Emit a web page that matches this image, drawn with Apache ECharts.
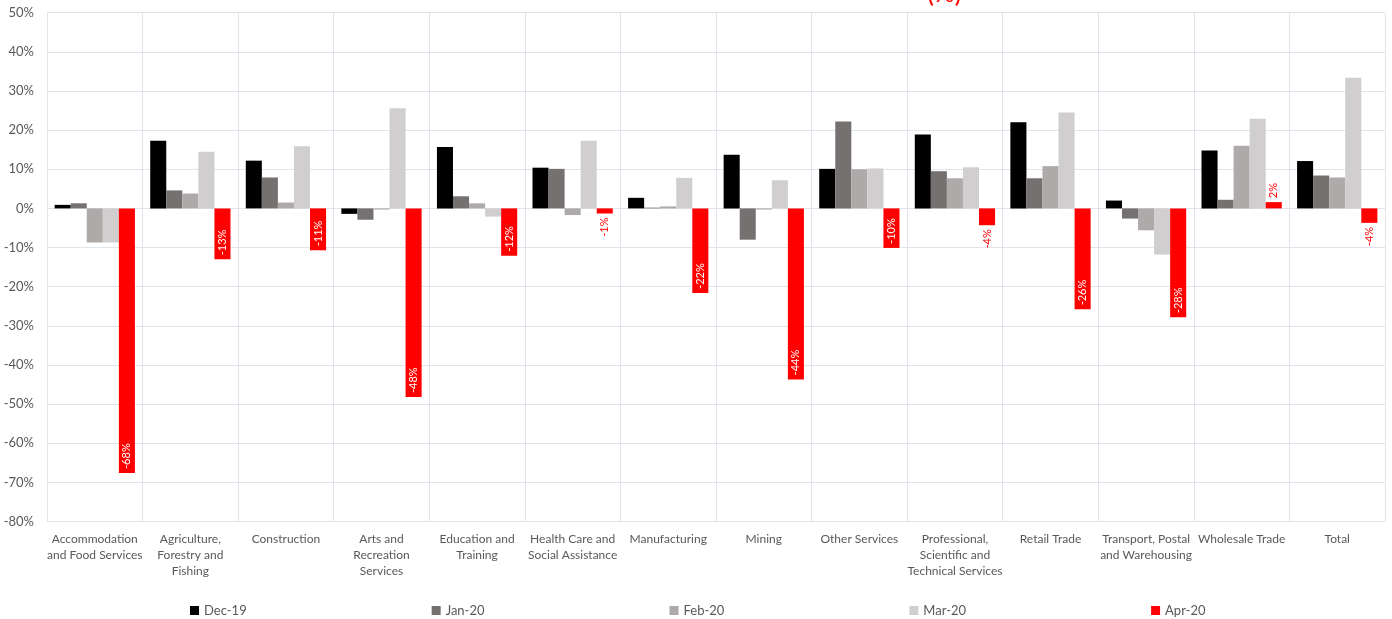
<!DOCTYPE html>
<html>
<head>
<meta charset="utf-8">
<script src="https://cdn.jsdelivr.net/npm/echarts@6/dist/echarts.min.js"></script>
<style>
  html, body { margin: 0; padding: 0; background: #fff; }
  #chart { width: 1392px; height: 619px; }
</style>
</head>
<body>
<div id="chart"></div>
<script>
  // industry categories (line breaks as in the original axis)
  const categories = [
    'Accommodation\nand Food Services',
    'Agriculture,\nForestry and\nFishing',
    'Construction',
    'Arts and\nRecreation\nServices',
    'Education and\nTraining',
    'Health Care and\nSocial Assistance',
    'Manufacturing',
    'Mining',
    'Other Services',
    'Professional,\nScientific and\nTechnical Services',
    'Retail Trade',
    'Transport, Postal\nand Warehousing',
    'Wholesale Trade',
    'Total'
  ]

  const seriesNames = ['Dec-19', 'Jan-20', 'Feb-20', 'Mar-20', 'Apr-20']
  const seriesColors = ['#000000', '#767171', '#aeaaaa', '#d0cece', '#ff0000']

  const dec19 = [0.9, 17.3, 12.2, -1.4, 15.7, 10.4, 2.7, 13.7, 10.1, 18.9, 22.0, 2.0, 14.8, 12.1]
  const jan20 = [1.3, 4.6, 7.9, -2.9, 3.1, 10.1, 0.2, -8.0, 22.2, 9.5, 7.7, -2.6, 2.2, 8.4]
  const feb20 = [-8.7, 3.8, 1.5, -0.3, 1.3, -1.7, 0.5, -0.3, 10.0, 7.7, 10.8, -5.6, 16.0, 7.9]
  const mar20 = [-8.7, 14.5, 15.9, 25.6, -2.1, 17.3, 7.8, 7.2, 10.2, 10.5, 24.5, -11.8, 22.9, 33.4]
  const apr20 = [-67.6, -13.0, -10.7, -48.2, -12.1, -1.3, -21.6, -43.7, -10.1, -4.3, -25.8, -27.8, 1.6, -3.7]

  const yTicks = { min: -80, max: 50, interval: 10 }

  const font = 'Lato, "Open Sans", sans-serif'
  const gridColor = '#e1e4ec'
  const textColor = '#595959'

  const chart = echarts.init(document.getElementById('chart'))

  // Apr-20 labels: white inside long bars, red outside short ones
  const aprData = apr20.map(function (v) {
    let label
    if (Math.abs(v) >= 5) {
      label = {
        show: true, position: 'insideBottom', rotate: 90,
        align: 'left', verticalAlign: 'middle', distance: 4, color: '#fff'
      }
    } else if (v < 0) {
      label = {
        show: true, position: 'bottom', rotate: 90,
        align: 'right', verticalAlign: 'middle', distance: 4, color: '#ff0000'
      }
    } else {
      label = {
        show: true, position: 'top', rotate: 90,
        align: 'left', verticalAlign: 'middle', distance: 4, color: '#ff0000'
      }
    }
    return { value: v, label: label }
  })

  const allValues = [dec19, jan20, feb20, mar20, aprData]

  const series = seriesNames.map(function (name, i) {
    const s = {
      name: name,
      type: 'bar',
      data: allValues[i],
      barGap: '0%',
      barCategoryGap: '16%',
      itemStyle: { color: seriesColors[i] }
    }
    if (i === 4) {
      s.label = {
        fontFamily: font,
        fontSize: 11,
        formatter: function (p) { return Math.round(p.value) + '%' }
      }
    }
    return s
  })

  const option = {
    animation: false,
    title: {
      text: '(%)',
      left: 922,
      top: -24,
      textStyle: { color: '#ff0000', fontSize: 26, fontWeight: 'normal', fontFamily: font }
    },
    grid: { left: 47, right: 7, top: 12.7, bottom: 97.5 },
    legend: {
      data: seriesNames,
      left: 185,
      top: 599,
      icon: 'rect',
      itemWidth: 9,
      itemHeight: 9,
      itemGap: 185,
      textStyle: { color: textColor, fontSize: 13, fontFamily: font }
    },
    xAxis: {
      type: 'category',
      data: categories,
      axisLine: { show: false },
      axisTick: { show: false },
      axisLabel: {
        interval: 0,
        margin: 10,
        color: textColor,
        fontFamily: font,
        fontSize: 12,
        lineHeight: 16
      },
      splitLine: { show: true, interval: 0, lineStyle: { color: gridColor, width: 1 } }
    },
    yAxis: {
      type: 'value',
      min: yTicks.min,
      max: yTicks.max,
      interval: yTicks.interval,
      axisLine: { show: false },
      axisTick: { show: false },
      axisLabel: {
        formatter: '{value}%',
        margin: 13,
        color: textColor,
        fontFamily: font,
        fontSize: 13
      },
      splitLine: { lineStyle: { color: gridColor, width: 1 } }
    },
    series: series
  }

  chart.setOption(option)
</script>
</body>
</html>
